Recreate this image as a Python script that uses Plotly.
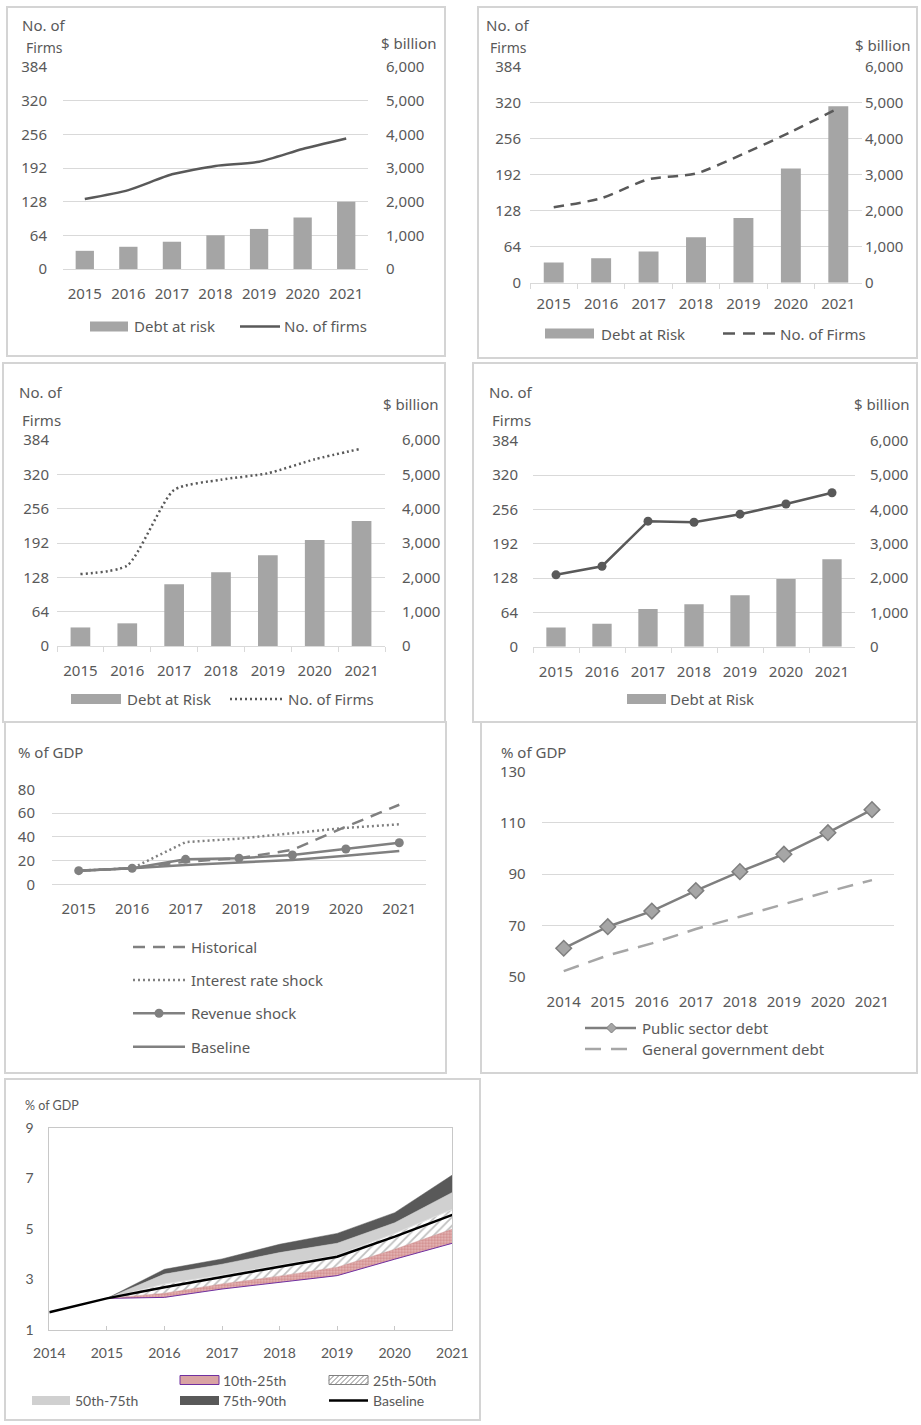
import plotly.graph_objects as go

# ---------------- DATA ----------------
years = ["2015", "2016", "2017", "2018", "2019", "2020", "2021"]

p1_debt = [540, 660, 810, 1000, 1190, 1530, 2000]
p1_firms = [133, 150, 180, 196, 204, 228, 248]

p2_debt = [560, 680, 870, 1260, 1800, 3170, 4900]
p2_firms = [134, 150, 184, 194, 229, 268, 310]

p3_debt = [540, 660, 1800, 2150, 2640, 3090, 3640]
p3_firms = [134, 150, 291, 310, 322, 348, 368]

p4_debt = [560, 670, 1100, 1240, 1500, 1970, 2550]
p4_firms = [134, 150, 234, 232, 247, 266, 287]

p5_historical = [11.5, 13.5, 19, 22, 29, 48.5, 67]
p5_interest = [11.5, 13.5, 35.5, 38.5, 43, 47.5, 50.5]
p5_revenue = [11.5, 13.5, 21, 22, 24.7, 29.7, 35]
p5_baseline = [11.5, 13.5, 16.3, 18.5, 20.5, 24, 28]

years6 = ["2014", "2015", "2016", "2017", "2018", "2019", "2020", "2021"]
p6_public = [61.1, 69.5, 75.6, 83.6, 91, 97.8, 106.2, 115.2]
p6_general = [52.2, 58.3, 63, 68.6, 73.4, 78.4, 83.2, 87.7]

years7 = [2014, 2015, 2016, 2017, 2018, 2019, 2020, 2021]
p7_baseline = [1.70, 2.25, 2.69, 3.11, 3.50, 3.90, 4.69, 5.55]
years7b = [2015, 2016, 2017, 2018, 2019, 2020, 2021]
p7_p10 = [2.25, 2.29, 2.62, 2.88, 3.15, 3.80, 4.43]
p7_p25 = [2.25, 2.45, 2.82, 3.13, 3.48, 4.19, 4.99]
p7_p50 = [2.25, 2.82, 3.17, 3.57, 3.96, 4.82, 5.77]
p7_p75 = [2.25, 3.21, 3.60, 4.06, 4.43, 5.24, 6.44]
p7_p90 = [2.25, 3.40, 3.81, 4.39, 4.82, 5.64, 7.13]

firm_ticks = [0, 64, 128, 192, 256, 320, 384]
debt_ticks = [0, 1000, 2000, 3000, 4000, 5000, 6000]

# ---------------- STYLE ----------------
W, H = 921, 1425
GRID = "#d9d9d9"
TXT = "#595959"
BAR = "#a5a5a5"
DARK = "#595959"
MID = "#808080"
FONT = "Noto Sans"
FONT7 = "Lato"
FS = 15


def fx(px):
    return px / W


def fy(py):
    return 1 - py / H


fig = go.Figure()
layout = dict(
    width=W, height=H, margin=dict(l=0, r=0, t=0, b=0, pad=0, autoexpand=False),
    paper_bgcolor="white", plot_bgcolor="white", showlegend=False,
    font=dict(family=FONT, color=TXT, size=FS),
)
shapes = []
annotations = []


def border(x0, y0, x1, y1):
    shapes.append(dict(type="rect", xref="paper", yref="paper",
                       x0=fx(x0), x1=fx(x1), y0=fy(y1), y1=fy(y0),
                       line=dict(color="#d4d4d4", width=2), fillcolor="rgba(0,0,0,0)"))


def swatch(x0, x1, yc, fill, h=10, lc=None, lw=0):
    shapes.append(dict(type="rect", xref="paper", yref="paper",
                       x0=fx(x0), x1=fx(x1), y0=fy(yc + h / 2), y1=fy(yc - h / 2),
                       fillcolor=fill, line=dict(color=lc or fill, width=lw)))


def lswatch(x0, x1, yc, color, width=2.5, dash="solid"):
    shapes.append(dict(type="line", xref="paper", yref="paper",
                       x0=fx(x0), x1=fx(x1), y0=fy(yc), y1=fy(yc),
                       line=dict(color=color, width=width, dash=dash)))


def text(x, y, s, size=FS, family=FONT, color=TXT):
    annotations.append(dict(x=fx(x), y=fy(y), xref="paper", yref="paper", text=s,
                            showarrow=False, xanchor="left", yanchor="middle",
                            font=dict(size=size, family=family, color=color), borderpad=0))


def bar_panel(i, xl, xr, ytop, ybot, debt, firms, line_style, lstand, rstand, xstand, xticks):
    xa = "xaxis" + ("" if i == 1 else str(i))
    yb_n = 2 * i - 1
    yl_n = 2 * i
    yb = "yaxis" + ("" if yb_n == 1 else str(yb_n))
    yl = "yaxis" + str(yl_n)
    xref = "x" + ("" if i == 1 else str(i))
    ybref = "y" + ("" if yb_n == 1 else str(yb_n))
    ylref = "y" + str(yl_n)
    layout[xa] = dict(domain=[fx(xl), fx(xr)], anchor=ybref, type="category",
                      range=[-0.5, 6.5], showgrid=False, showline=True, linecolor=GRID,
                      linewidth=1, ticks="outside" if xticks else "", tickson="boundaries",
                      ticklen=5, tickcolor=GRID, ticklabelstandoff=xstand, automargin=False,
                      tickfont=dict(size=FS, color=TXT), zeroline=False)
    layout[yb] = dict(domain=[fy(ybot), fy(ytop)], anchor=xref, side="right",
                      range=[0, 6000], tickvals=debt_ticks, tickformat=",",
                      showgrid=True, gridcolor=GRID, gridwidth=1, zeroline=False,
                      automargin=False,
                      ticklabelstandoff=rstand, tickfont=dict(size=FS, color=TXT))
    layout[yl] = dict(overlaying=ybref, anchor=xref, side="left", range=[0, 384],
                      tickvals=firm_ticks, showgrid=False, zeroline=False, automargin=False,
                      ticklabelstandoff=lstand, tickfont=dict(size=FS, color=TXT))
    fig.add_trace(go.Bar(x=years, y=debt, xaxis=xref, yaxis=ybref, width=0.42,
                         marker=dict(color=BAR, line=dict(width=0)), name="Debt at Risk"))
    fig.add_trace(go.Scatter(x=years, y=firms, xaxis=xref, yaxis=ylref, name="No. of Firms",
                             cliponaxis=False, **line_style))


# ---- Panel 1 ----
border(7, 7, 445, 356)
bar_panel(1, 63, 368, 67, 269, p1_debt, p1_firms,
          dict(mode="lines", line=dict(color=DARK, width=2.5, shape="spline", smoothing=0.6)),
          15, 17, 11, False)
text(21, 25, "No. of")
text(25, 48, "Firms", size=14)
text(380, 43, "$ billion")
swatch(90, 128, 326.5, BAR)
text(133, 326.5, "Debt at risk")
lswatch(240, 280, 326.5, DARK)
text(283, 326.5, "No. of firms")

# ---- Panel 2 ----
border(478, 7, 917, 358)
bar_panel(2, 530, 862, 66.7, 282.7, p2_debt, p2_firms,
          dict(mode="lines", line=dict(color=DARK, width=2.5, dash="10px,7px", shape="spline", smoothing=0.6)),
          8, 2, 7, True)
text(485, 25, "No. of")
text(489, 48, "Firms", size=14)
text(854, 45.5, "$ billion")
swatch(545, 594, 333.5, BAR)
text(600, 333.5, "Debt at Risk")
lswatch(723, 775, 333.5, DARK, dash="12px,8px")
text(779, 333.5, "No. of Firms")

# ---- Panel 3 ----
border(3, 363, 445, 722)
bar_panel(3, 57, 385, 440, 646, p3_debt, p3_firms,
          dict(mode="lines", line=dict(color=DARK, width=2.5, dash="2px,3px", shape="spline", smoothing=0.6)),
          7, 16, 11, True)
text(18, 392, "No. of")
text(21, 420, "Firms")
text(382, 404, "$ billion")
swatch(71, 121, 699, BAR)
text(126, 699, "Debt at Risk")
lswatch(230, 283, 699, DARK, dash="2px,3px")
text(287, 699, "No. of Firms")

# ---- Panel 4 ----
border(473, 363, 917, 722)
bar_panel(4, 533, 855, 440.7, 646.7, p4_debt, p4_firms,
          dict(mode="lines+markers", line=dict(color=DARK, width=2.5),
               marker=dict(color=DARK, size=9, symbol="circle")),
          14, 14, 11, True)
text(488, 392, "No. of")
text(491, 420, "Firms")
text(853, 404, "$ billion")
swatch(627, 666, 699, BAR)
text(669, 699, "Debt at Risk")

# ---- Panel 5 ----
border(5, 722, 446, 1073)
layout["xaxis5"] = dict(domain=[fx(52), fx(426)], anchor="y9", type="category",
                        range=[-0.5, 6.5], showgrid=False, showline=True, linecolor=GRID,
                        ticks="", ticklabelstandoff=11, tickfont=dict(size=FS, color=TXT),
                        zeroline=False, automargin=False)
layout["yaxis9"] = dict(domain=[fy(884.3), fy(789.3)], anchor="x5", range=[0, 80],
                        tickvals=[0, 20, 40, 60, 80], showgrid=True, gridcolor=GRID,
                        zeroline=False, ticklabelstandoff=16, automargin=False,
                        tickfont=dict(size=FS, color=TXT))
fig.add_trace(go.Scatter(x=years, y=p5_baseline, xaxis="x5", yaxis="y9", mode="lines",
                         line=dict(color=MID, width=2.5), name="Baseline"))
fig.add_trace(go.Scatter(x=years, y=p5_historical, xaxis="x5", yaxis="y9", mode="lines",
                         line=dict(color=MID, width=2.5, dash="12px,8px"), name="Historical"))
fig.add_trace(go.Scatter(x=years, y=p5_interest, xaxis="x5", yaxis="y9", mode="lines",
                         line=dict(color=MID, width=2.5, dash="2px,3px"), name="Interest rate shock"))
fig.add_trace(go.Scatter(x=years, y=p5_revenue, xaxis="x5", yaxis="y9", mode="lines+markers",
                         line=dict(color=MID, width=2.5), marker=dict(color=MID, size=9),
                         name="Revenue shock", cliponaxis=False))
text(17, 752, "% of GDP")
lswatch(133, 185, 947, MID, dash="12px,8px")
text(190, 947, "Historical")
lswatch(133, 185, 980, MID, dash="2px,3px")
text(190, 980, "Interest rate shock")
lswatch(133, 185, 1013.3, MID)
shapes.append(dict(type="circle", xref="paper", yref="paper",
                   x0=fx(159 - 4.5), x1=fx(159 + 4.5), y0=fy(1013.3 + 4.5), y1=fy(1013.3 - 4.5),
                   fillcolor=MID, line=dict(color=MID, width=0)))
text(190, 1013.3, "Revenue shock")
lswatch(133, 185, 1046.7, MID)
text(190, 1046.7, "Baseline")

# ---- Panel 6 ----
border(481, 722, 917, 1073)
layout["xaxis6"] = dict(domain=[fx(541.7), fx(894)], anchor="y10", type="category",
                        range=[-0.5, 7.5], showgrid=False, showline=False,
                        ticks="", ticklabelstandoff=14, tickfont=dict(size=FS, color=TXT),
                        zeroline=False, automargin=False)
layout["yaxis10"] = dict(domain=[fy(976.7), fy(771.7)], anchor="x6", range=[50, 130],
                         tickvals=[50, 70, 90, 110, 130], showgrid=True, gridcolor=GRID,
                         zeroline=False, ticklabelstandoff=15, automargin=False,
                         tickfont=dict(size=FS, color=TXT))
fig.add_trace(go.Scatter(x=years6, y=p6_general, xaxis="x6", yaxis="y10", mode="lines",
                         line=dict(color="#a6a6a6", width=2.5, dash="16px,10px"),
                         name="General government debt"))
fig.add_trace(go.Scatter(x=years6, y=p6_public, xaxis="x6", yaxis="y10", mode="lines+markers",
                         line=dict(color="#7f7f7f", width=2.5),
                         marker=dict(symbol="diamond", size=12, color="#a6a6a6",
                                     line=dict(color="#7f7f7f", width=1.5)),
                         name="Public sector debt", cliponaxis=False))
text(500, 752, "% of GDP")
lswatch(585, 636, 1028, "#7f7f7f")
r = 5
cx, cy = 611.5, 1028
shapes.append(dict(type="path", xref="paper", yref="paper",
                   path=f"M{fx(cx)},{fy(cy - r)} L{fx(cx + r)},{fy(cy)} L{fx(cx)},{fy(cy + r)} L{fx(cx - r)},{fy(cy)} Z",
                   fillcolor="#a6a6a6", line=dict(color="#7f7f7f", width=1)))
text(641, 1028, "Public sector debt")
lswatch(585, 636, 1049, "#a6a6a6", dash="16px,10px")
text(641, 1049, "General government debt")

# ---- Panel 7 ----
border(5, 1079, 480, 1420)
layout["xaxis7"] = dict(domain=[fx(49.3), fx(452.3)], anchor="y11", range=[2014, 2021],
                        tickvals=years7, showgrid=False, showline=True, mirror=True,
                        linecolor="#c8c8c8", linewidth=1, ticks="inside", ticklen=4,
                        tickcolor="#c8c8c8", ticklabelstandoff=10, automargin=False,
                        tickfont=dict(size=14, family=FONT7, color=TXT), zeroline=False)
layout["yaxis11"] = dict(domain=[fy(1330), fy(1127.7)], anchor="x7", range=[1, 9],
                         tickvals=[1, 3, 5, 7, 9], showgrid=False, showline=True, mirror=True,
                         linecolor="#c8c8c8", linewidth=1, ticks="", zeroline=False,
                         ticklabelstandoff=12, automargin=False,
                         tickfont=dict(size=14, family=FONT7, color=TXT))
fig.add_trace(go.Scatter(x=years7b, y=p7_p10, xaxis="x7", yaxis="y11", mode="lines",
                         line=dict(color="#7030a0", width=1), name="10th"))
fig.add_trace(go.Scatter(x=years7b, y=p7_p25, xaxis="x7", yaxis="y11", mode="lines",
                         line=dict(color="#c98b8b", width=0.5), fill="tonexty",
                         fillcolor="#d9a3a3",
                         fillpattern=dict(shape=".", fgcolor="#b55a5a", bgcolor="#e8bcbc",
                                          size=3, solidity=0.5),
                         name="10th-25th"))
fig.add_trace(go.Scatter(x=years7b, y=p7_p50, xaxis="x7", yaxis="y11", mode="lines",
                         line=dict(color="#e0e0e0", width=1), fill="tonexty",
                         fillcolor="white",
                         fillpattern=dict(shape="/", fgcolor="#7f7f7f", bgcolor="white",
                                          size=6, solidity=0.3),
                         name="25th-50th"))
fig.add_trace(go.Scatter(x=years7b, y=p7_p75, xaxis="x7", yaxis="y11", mode="lines",
                         line=dict(color="#d0d0d0", width=0.5), fill="tonexty",
                         fillcolor="#d0d0d0", name="50th-75th"))
fig.add_trace(go.Scatter(x=years7b, y=p7_p90, xaxis="x7", yaxis="y11", mode="lines",
                         line=dict(color="#595959", width=0.5), fill="tonexty",
                         fillcolor="#595959", name="75th-90th"))
fig.add_trace(go.Scatter(x=years7, y=p7_baseline, xaxis="x7", yaxis="y11", mode="lines",
                         line=dict(color="black", width=2.5), name="Baseline", cliponaxis=False))
annotations.append(dict(x=fx(23), y=fy(1105), xref="paper", yref="paper", text="% of GDP",
                        showarrow=False, xanchor="left", yanchor="middle",
                        font=dict(size=12.5, family=FONT7, color=TXT)))
# legend row 1
swatch(180, 219, 1380, "#d9a3a3", h=9, lc="#7030a0", lw=1)
text(222, 1380, "10th-25th", size=14, family=FONT7)
swatch(329, 368, 1380, "white", h=9, lc="#7f7f7f", lw=1)
hatch = ""
for k in range(0, 48, 5):
    xa0 = 329 + k - 9
    xa1 = xa0 + 9
    ya0, ya1 = 1384.5, 1375.5
    if xa0 < 329:
        ya0 = 1384.5 - (329 - xa0)
        xa0 = 329
    if xa1 > 368:
        ya1 = 1375.5 + (xa1 - 368)
        xa1 = 368
    if xa0 < xa1:
        hatch += f"M{fx(xa0)},{fy(ya0)} L{fx(xa1)},{fy(ya1)} "
shapes.append(dict(type="path", xref="paper", yref="paper", path=hatch,
                   line=dict(color="#7f7f7f", width=1)))
text(372, 1380, "25th-50th", size=14, family=FONT7)
# legend row 2
swatch(32, 70, 1400.5, "#d0d0d0", h=9)
text(74, 1400.5, "50th-75th", size=14, family=FONT7)
swatch(180, 219, 1400.5, "#595959", h=9)
text(222, 1400.5, "75th-90th", size=14, family=FONT7)
lswatch(329, 368, 1400.5, "black", width=2.5)
text(372, 1400.5, "Baseline", size=14, family=FONT7)

layout["shapes"] = shapes
layout["annotations"] = annotations
fig.update_layout(**layout)
fig.write_html("out.html", config={"displayModeBar": False},
               post_script="document.body.style.margin='0px';document.body.style.overflow='hidden';")
